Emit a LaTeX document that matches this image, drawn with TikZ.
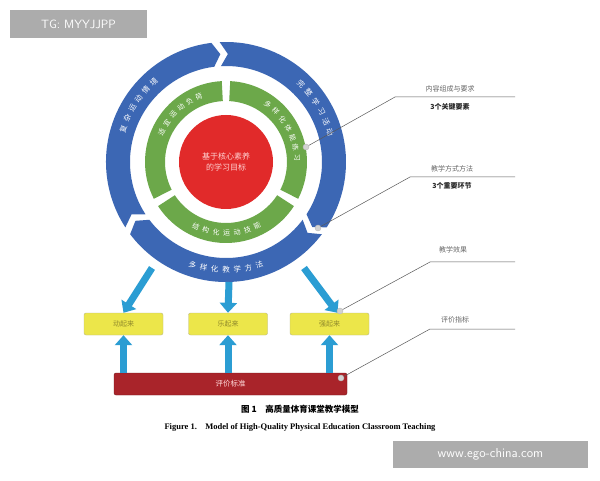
\documentclass[tikz,border=0pt]{standalone}
\usepackage{fontspec}
\setmainfont{Liberation Serif}
\newfontfamily\cjk{Noto Sans CJK SC}
\usetikzlibrary{arrows.meta}
\definecolor{ringblue}{HTML}{3C67B4}
\definecolor{ringgreen}{HTML}{6CA84A}
\definecolor{corered}{HTML}{E12A2A}
\definecolor{arrblue}{HTML}{2B9DD3}
\definecolor{boxyel}{HTML}{ECE64A}
\definecolor{barred}{HTML}{A9242A}
\tikzset{
 ch/.style={font=\cjk\fontsize{7.5}{8}\selectfont, text=white, inner sep=0pt},
 box/.style={draw=yellow!50!black!60, fill=boxyel, rounded corners=2pt, minimum width=79pt, minimum height=22pt, font=\cjk\fontsize{7}{8}\selectfont, text=olive!70!gray},
 bigarr/.style={draw=arrblue, line width=7pt, -{Triangle[width=17pt,length=10pt]}},
 lead/.style={draw=gray!70!black, line width=0.5pt},
 dot/.style={circle, fill=gray!35, draw=gray!55, inner sep=0pt, minimum size=6pt},
 lab/.style={font=\cjk\fontsize{7}{8}\selectfont, text=gray!80!black},
 labb/.style={font=\cjk\bfseries\fontsize{7}{8}\selectfont, text=black!85},
}
\newcommand{\ringseg}[6]{% a1 a2 rin rout d color
 \fill[#6] (#1:#4) arc[start angle=#1,end angle=#2,radius=#4] -- ({#2+#5}:{(#3+#4)/2}) -- (#2:#3) arc[start angle=#2,end angle=#1,radius=#3] -- ({#1+#5}:{(#3+#4)/2}) -- cycle;}
\begin{document}
\begin{tikzpicture}[x=1pt,y=1pt]
\useasboundingbox (0,0) rectangle (600,480);
\fill[white] (0,0) rectangle (600,480);
% watermark boxes
\node[fill=gray!65, text=white, minimum width=137pt, minimum height=28pt, font=\sffamily\fontsize{12}{14}\selectfont, inner sep=0pt] (wm1) at (78.5,456) {TG: MYYJJPP};
\node[fill=gray!65, text=white, minimum width=195pt, minimum height=27pt, font=\sffamily\fontsize{13}{15}\selectfont, inner sep=0pt] (wm2) at (490.5,25.5) {www.ego-china.com};
\begin{scope}[shift={(226,318)}]
 \coordinate (C) at (0,0);
 % blue ring
 \ringseg{97}{213}{96}{120}{-4}{ringblue}
 \ringseg{217}{323}{96}{120}{-4}{ringblue}
 \ringseg{327}{453}{96}{120}{-4}{ringblue}
 % green ring
 \ringseg{93}{207}{61}{81}{0}{ringgreen}
 \ringseg{213}{327}{61}{81}{0}{ringgreen}
 \ringseg{333}{447}{61}{81}{0}{ringgreen}
 % red core
 \node[circle, fill=corered, minimum size=94pt, inner sep=0pt, align=center, font=\cjk\fontsize{8}{11}\selectfont, text=pink!70] (core) at (0,0) {基于核心素养\\的学习目标};
 % blue texts
 \foreach \c [count=\i] in {复,杂,运,动,情,境} {\pgfmathsetmacro\a{162-(\i-1)*6}\node[ch,rotate=\a-90] at (\a:108) {\c};}
 \foreach \c [count=\i] in {完,整,学,习,活,动} {\pgfmathsetmacro\a{46-(\i-1)*6}\node[ch,rotate=\a-90] at (\a:108) {\c};}
 \foreach \c [count=\i] in {多,样,化,教,学,方,法} {\pgfmathsetmacro\a{252+(\i-1)*6}\node[ch,rotate=\a+90] at (\a:108) {\c};}
 % green texts
 \foreach \c [count=\i] in {适,宜,运,动,负,荷} {\pgfmathsetmacro\a{155-(\i-1)*8.5}\node[ch,rotate=\a-90,font=\cjk\fontsize{7}{8}\selectfont] at (\a:71) {\c};}
 \foreach \c [count=\i] in {多,样,化,体,能,练,习} {\pgfmathsetmacro\a{54-(\i-1)*8.5}\node[ch,rotate=\a-90,font=\cjk\fontsize{7}{8}\selectfont] at (\a:71) {\c};}
 \foreach \c [count=\i] in {结,构,化,运,动,技,能} {\pgfmathsetmacro\a{245+(\i-1)*8.5}\node[ch,rotate=\a+90,font=\cjk\fontsize{7}{8}\selectfont] at (\a:71) {\c};}
\end{scope}
% boxes
\node[box] (b1) at (123.5,156) {动起来};
\node[box] (b2) at (228,156) {乐起来};
\node[box] (b3) at (329.5,156) {强起来};
\node[fill=barred, draw=barred!70!black, rounded corners=2pt, minimum width=233pt, minimum height=22pt, font=\cjk\fontsize{7.5}{8}\selectfont, text=pink!60] (bar) at (230.5,96) {评价标准};
% coordinates for arrows
\coordinate (s1) at (152,212); \coordinate (s2) at (229,198); \coordinate (s3) at (304,212);
\draw[bigarr] (s1) -- (b1.north);
\draw[bigarr] (s2) -- (b2.north);
\draw[bigarr] (s3) -- ([xshift=8pt]b3.north);
\draw[bigarr] (bar.north -| b1) -- (b1.south);
\draw[bigarr] (bar.north -| b2) -- (b2.south);
\draw[bigarr] (bar.north -| b3) -- (b3.south);
% leaders
\node[dot] (d1) at (306,333) {};
\node[dot] (d2) at (318,252) {};
\node[dot] (d3) at (340,169) {};
\node[dot] (d4) at (341,102) {};
\coordinate (k1) at (395,383); \coordinate (e1) at (515,383);
\coordinate (k2) at (410,303); \coordinate (e2) at (515,303);
\coordinate (k3) at (430,218); \coordinate (e3) at (515,218);
\coordinate (k4) at (430,151); \coordinate (e4) at (515,151);
\draw[lead] (d1) -- (k1) -- (e1);
\draw[lead] (d2) -- (k2) -- (e2);
\draw[lead] (d3) -- (k3) -- (e3);
\draw[lead] (d4) -- (k4) -- (e4);
\node[lab] (t1) at (450,391) {内容组成与要求};
\node[labb] (u1) at (450,373) {3个关键要素};
\node[lab] (t2) at (452,311) {教学方式方法};
\node[labb] (u2) at (452,294) {3个重要环节};
\node[lab] (t3) at (453,230) {教学效果};
\node[lab] (t4) at (455,160) {评价指标};
% caption
\node[font=\cjk\bfseries\fontsize{8.5}{10}\selectfont] (cap1) at (300,71) {图 1\quad 高质量体育课堂教学模型};
\node[font=\bfseries\fontsize{8.5}{10}\selectfont] (cap2) at (300,53) {Figure 1.\quad Model of High-Quality Physical Education Classroom Teaching};
\end{tikzpicture}
\end{document}
